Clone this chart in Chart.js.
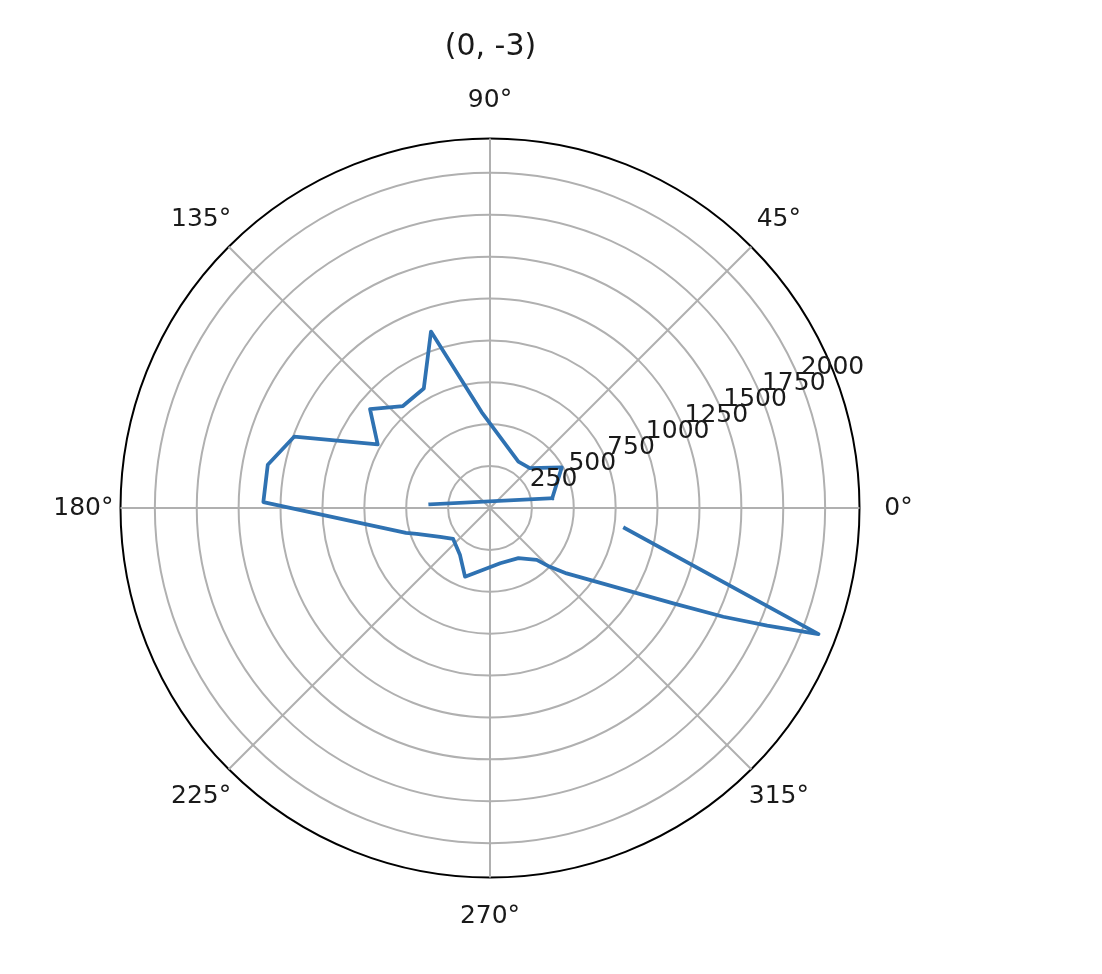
<!DOCTYPE html>
<html>
<head>
<meta charset="utf-8">
<title>(0, -3)</title>
<script src="https://cdn.jsdelivr.net/npm/chart.js@4/dist/chart.umd.min.js"></script>
<style>
    html, body { margin: 0; padding: 0; background: #fff; }
    #chart { display: block; }
</style>
</head>
<body>
<canvas id="chart" width="1102" height="974"></canvas>
<script>
// trace, in drawing order: angle in degrees (counter-clockwise from east) and radius
var thetaDeg = [176.5, 9, 29.5, 45, 58.5, 95, 108.5, 119, 130.5, 140.5, 150.5, 160, 169, 178.5,
    196.5, 199.5, 210, 220, 237.5, 250, 280.5, 299.5, 312, 315.5, 319.5, 332.5, 335, 337, 339, 351.5];
var radius = [357, 376, 492, 336, 324, 575, 1110, 815, 800, 928, 770, 1244, 1351, 1353,
    523, 464, 344, 287, 333, 436, 335, 344, 417, 501, 601, 1233, 1536, 1797, 2100, 814];

var angleTicks = [0, 45, 90, 135, 180, 225, 270, 315];
var radiusTicks = [250, 500, 750, 1000, 1250, 1500, 1750, 2000];
var rMax = 2205;

var step = 0.5;               // angular resolution of the category axis
var nCat = 360 / step;
var lineColor = '#2f72b2';
var gridColor = '#b0b0b0';
var textColor = '#1a1a1a';
var fontFamily = 'DejaVu Sans';

Chart.defaults.font.family = fontFamily;

// category i sits at angle -i*step, so the chart reads counter-clockwise from east
function catIndex(theta) {
    return Math.round((360 - theta) / step) % nCat;
}
function catAngle(index) {
    return (360 - index * step) % 360;
}
function isMajor(index) {
    return angleTicks.indexOf(catAngle(index)) >= 0;
}

var labels = [];
for (var i = 0; i < nCat; i++) {
    labels.push(isMajor(i) ? catAngle(i) + '°' : '');
}

function series(points) {
    var data = new Array(nCat).fill(null);
    points.forEach(function (k) {
        data[catIndex(thetaDeg[k])] = radius[k];
    });
    return data;
}

var firstLeg = [0, 1];
var restLegs = [];
for (var k = 1; k < thetaDeg.length; k++) {
    restLegs.push(k);
}

function lineDataset(points) {
    return {
        data: series(points),
        borderColor: lineColor,
        borderWidth: 3.75,
        borderJoinStyle: 'round',
        borderCapStyle: 'square',
        pointRadius: 0,
        pointHoverRadius: 0,
        fill: false,
        spanGaps: true,
        tension: 0
    };
}

// width of a label in em, DejaVu Sans digits + degree sign
function labelEm(text) {
    return (text.length - 1) * 0.636 + 0.5;
}

function pointLabelFont(ctx) {
    var text = labels[ctx.index];
    var a = catAngle(ctx.index);
    var lh = 1.2;
    if (text && a % 90 !== 0) {
        lh = labelEm(text);
    }
    return { family: fontFamily, size: 25, lineHeight: lh };
}

function pointLabelPadding(ctx) {
    var text = labels[ctx.index];
    if (!text) {
        return 0;
    }
    var a = catAngle(ctx.index);
    if (a === 90 || a === 270) return 23.5;
    if (a === 0) return 24.8;
    if (a === 180) return 7;
    return 39 - 0.7071 * labelEm(text) * 25;
}

// radar lines are closed by default; this trace is an open polyline
var openPath = {
    id: 'openPath',
    afterDatasetUpdate: function (chart, args) {
        var line = args.meta.dataset;
        if (line) {
            line._loop = false;
            delete line._segments;
            delete line._path;
        }
    }
};

// radius labels along the 22.5 degree ray, like the reference
var ringLabels = {
    id: 'ringLabels',
    afterDatasetsDraw: function (chart) {
        var scale = chart.scales.r;
        var ctx = chart.ctx;
        var a = 22.5 * Math.PI / 180;
        ctx.save();
        ctx.font = '25px "' + fontFamily + '"';
        ctx.fillStyle = textColor;
        ctx.textAlign = 'left';
        ctx.textBaseline = 'alphabetic';
        radiusTicks.forEach(function (v) {
            var d = scale.getDistanceFromCenterForValue(v);
            var x = scale.xCenter + d * Math.cos(a);
            var y = scale.yCenter - d * Math.sin(a);
            ctx.fillText(String(v), x + 1, y - 6);
        });
        ctx.restore();
    }
};

new Chart(document.getElementById('chart'), {
    type: 'radar',
    data: {
        labels: labels,
        datasets: [lineDataset(firstLeg), lineDataset(restLegs)]
    },
    options: {
        responsive: false,
        animation: false,
        devicePixelRatio: 1,
        events: [],
        layout: { padding: { left: 0, right: 121, top: 0, bottom: 42 } },
        plugins: {
            legend: { display: false },
            tooltip: { enabled: false },
            title: {
                display: true,
                text: '(0, -3)',
                color: textColor,
                font: { family: fontFamily, size: 30, weight: 'normal' },
                padding: { top: 29, bottom: 20 }
            }
        },
        scales: {
            r: {
                min: 0,
                max: rMax,
                startAngle: 90,
                ticks: { display: false, stepSize: 250, includeBounds: false },
                afterBuildTicks: function (scale) {
                    scale.ticks = [0].concat(radiusTicks, [rMax]).map(function (v) {
                        return { value: v };
                    });
                },
                grid: {
                    circular: true,
                    color: function (ctx) {
                        return ctx.tick && ctx.tick.value >= rMax ? '#000000' : gridColor;
                    },
                    lineWidth: 2
                },
                angleLines: {
                    color: gridColor,
                    lineWidth: function (ctx) {
                        return isMajor(ctx.index) ? 2 : 0;
                    }
                },
                pointLabels: {
                    display: true,
                    color: textColor,
                    font: pointLabelFont,
                    padding: pointLabelPadding
                }
            }
        }
    },
    plugins: [openPath, ringLabels]
});
</script>
</body>
</html>
